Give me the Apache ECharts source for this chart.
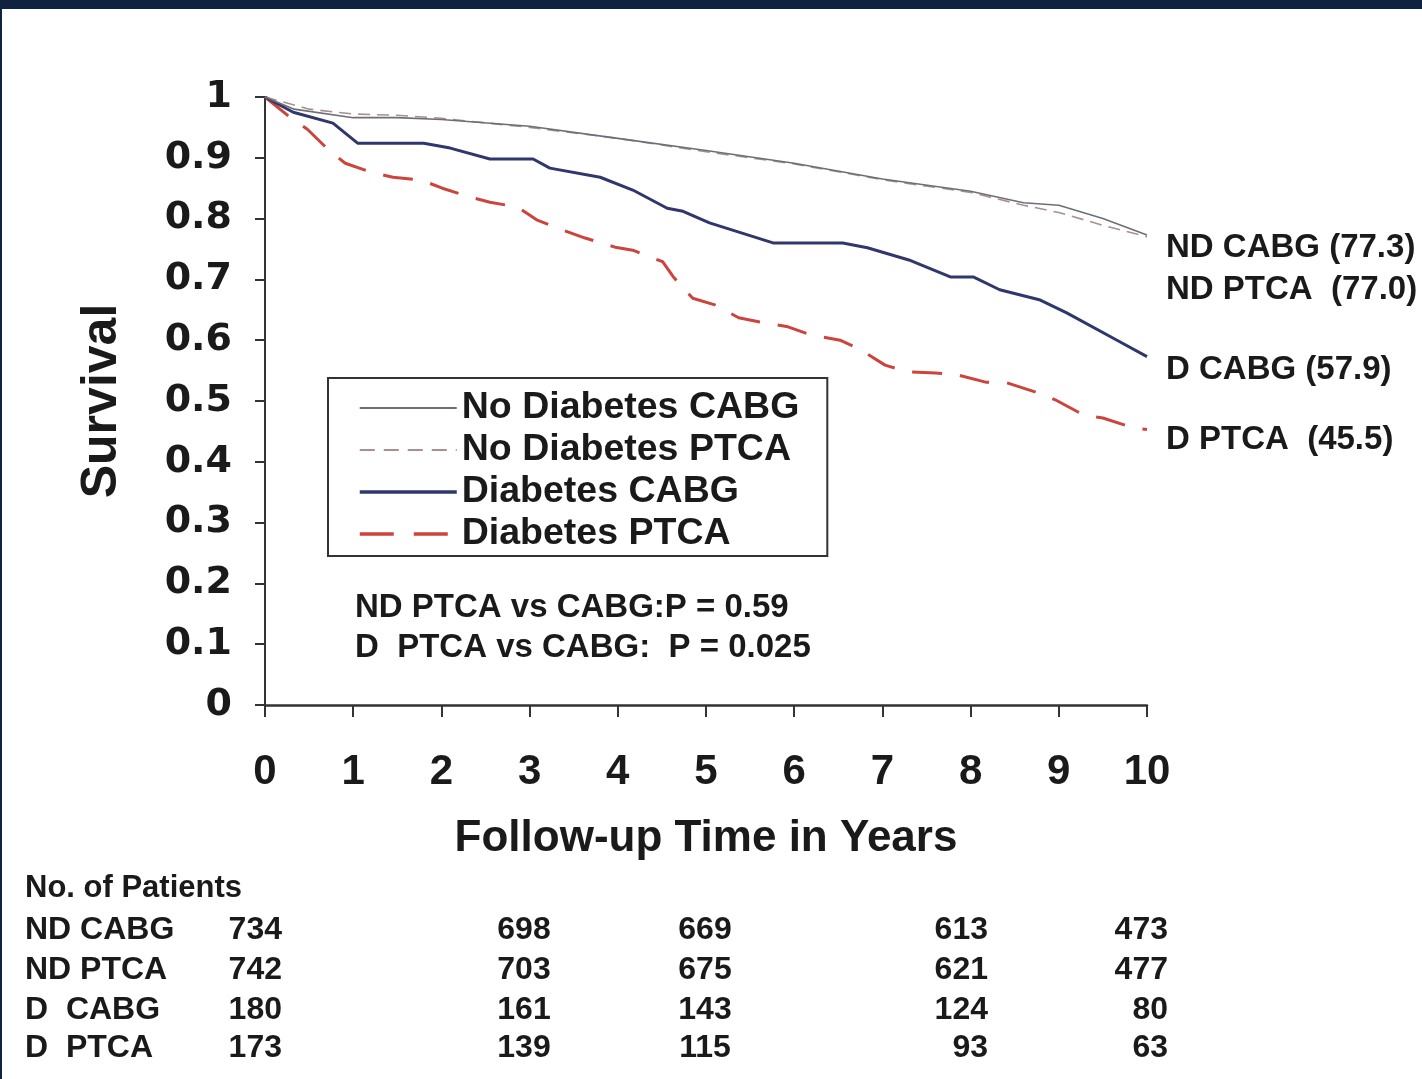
<!DOCTYPE html>
<html>
<head>
<meta charset="utf-8">
<script src="https://cdn.jsdelivr.net/npm/echarts@6/dist/echarts.min.js"></script>
<style>
html,body{margin:0;padding:0;background:#ffffff;}
#chart{position:absolute;left:0;top:0;width:1422px;height:1079px;}
</style>
</head>
<body>
<div id="chart"></div>
<script>
// ---------- data ----------
const seriesNames = ['No Diabetes CABG', 'No Diabetes PTCA', 'Diabetes CABG', 'Diabetes PTCA'];
const endLabels = ['ND CABG (77.3)', 'ND PTCA  (77.0)', 'D CABG (57.9)', 'D PTCA  (45.5)'];

const ndCabgT = [0, 0.33, 1.0, 1.5, 2.0, 3.0, 4.0, 5.0, 6.0, 7.0, 8.0, 8.6, 9.0, 9.5, 10];
const ndCabgS = [1.0, 0.98, 0.966, 0.966, 0.963, 0.952, 0.932, 0.912, 0.891, 0.865, 0.845, 0.826, 0.822, 0.800, 0.773];

const ndPtcaT = [0, 0.5, 1.0, 1.5, 2.0, 3.0, 4.0, 5.0, 6.0, 7.0, 8.0, 8.6, 9.0, 9.5, 10];
const ndPtcaS = [1.0, 0.98, 0.972, 0.970, 0.965, 0.950, 0.932, 0.910, 0.890, 0.864, 0.843, 0.822, 0.810, 0.789, 0.770];

const dCabgT = [0, 0.32, 0.77, 1.05, 1.8, 2.1, 2.55, 3.04, 3.23, 3.8, 4.17, 4.56, 4.74, 5.04, 5.76, 6.55, 6.83, 7.3, 7.77, 8.03, 8.33, 8.79, 9.09, 9.66, 10];
const dCabgS = [1.0, 0.975, 0.957, 0.924, 0.924, 0.916, 0.898, 0.898, 0.883, 0.868, 0.847, 0.817, 0.812, 0.793, 0.760, 0.760, 0.752, 0.732, 0.704, 0.704, 0.683, 0.666, 0.645, 0.600, 0.573];

const dPtcaT = [0, 0.28, 0.48, 0.72, 0.91, 1.19, 1.45, 1.78, 2.01, 2.31, 2.55, 2.86, 3.08, 3.38, 3.63, 3.97, 4.17, 4.51, 4.63, 4.85, 5.1, 5.37, 5.61, 5.93, 6.18, 6.52, 6.72, 7.03, 7.28, 7.6, 7.85, 8.17, 8.41, 8.73, 8.96, 9.28, 9.5, 9.84, 10];
const dPtcaS = [1.0, 0.967, 0.947, 0.913, 0.891, 0.877, 0.868, 0.863, 0.850, 0.836, 0.827, 0.819, 0.798, 0.781, 0.768, 0.753, 0.748, 0.729, 0.704, 0.669, 0.658, 0.637, 0.630, 0.622, 0.609, 0.600, 0.587, 0.559, 0.548, 0.546, 0.543, 0.531, 0.530, 0.515, 0.502, 0.477, 0.472, 0.456, 0.453];

const pValueLines = ['ND PTCA vs CABG:P = 0.59', 'D  PTCA vs CABG:  P = 0.025'];

const tableTitle = 'No. of Patients';
const tableRowLabels = ['ND CABG', 'ND PTCA', 'D  CABG', 'D  PTCA'];
const patientYears = [0, 3, 5, 8, 10];
const ndCabgN = [734, 698, 669, 613, 473];
const ndPtcaN = [742, 703, 675, 621, 477];
const dCabgN = [180, 161, 143, 124, 80];
const dPtcaN = [173, 139, 115, 93, 63];

// ---------- build ----------
function pairs(t, s) { return t.map((v, i) => [v, s[i]]); }

const FONT = 'Liberation Sans';
const txt = '#1a1a1a';

const lineDefs = [
  { t: ndCabgT, s: ndCabgS, color: '#6e6e7a', width: 1.6, type: 'solid', legendType: 'solid', legendWidth: 2, off: [11, 13] },
  { t: ndPtcaT, s: ndPtcaS, color: '#a89090', width: 1.6, type: [12, 7], legendType: [15, 9], legendWidth: 2, off: [11, 53] },
  { t: dCabgT, s: dCabgS, color: '#2f376c', width: 3, type: 'solid', legendType: 'solid', legendWidth: 3.5, off: [11, 13] },
  { t: dPtcaT, s: dPtcaS, color: '#cc443c', width: 3, type: [30, 18], legendType: [34, 20], legendWidth: 3.5, off: [11, 10] }
];

const series = lineDefs.map((d, i) => ({
  name: seriesNames[i],
  type: 'line',
  data: pairs(d.t, d.s),
  symbol: 'none',
  smooth: false,
  silent: true,
  z: 10 - i,
  lineStyle: { color: d.color, width: d.width, type: d.type },
  itemStyle: { color: d.color },
  endLabel: {
    show: true,
    formatter: endLabels[i],
    offset: d.off,
    fontFamily: FONT,
    fontWeight: 'bold',
    fontSize: 33,
    color: txt
  }
}));

const legendData = lineDefs.map((d, i) => ({
  name: seriesNames[i],
  lineStyle: { color: d.color, width: d.legendWidth, type: d.legendType }
}));

const graphics = [
  { type: 'rect', shape: { x: 0, y: 0, width: 1422, height: 9 }, style: { fill: '#0f2340' }, z: 100 },
  { type: 'rect', shape: { x: 0, y: 0, width: 2, height: 1079 }, style: { fill: '#0f2340' }, z: 100 }
];

// p-values
pValueLines.forEach((s, i) => {
  graphics.push({
    type: 'text', left: 355, top: 608 + i * 40 - 17,
    style: { text: s, font: 'bold 33px "' + FONT + '"', fill: txt }
  });
});

// patient table
graphics.push({
  type: 'text', x: 25, y: 888,
  style: { text: tableTitle, font: 'bold 31px "' + FONT + '"', fill: txt, verticalAlign: 'middle', align: 'left' }
});
const rowY = [930, 970, 1010, 1048];
const colX = [282, 524, 705, 988, 1168];
const colAlign = ['right', 'center', 'center', 'right', 'right'];
const rows = [ndCabgN, ndPtcaN, dCabgN, dPtcaN];
rows.forEach((r, ri) => {
  graphics.push({
    type: 'text', x: 25, y: rowY[ri],
    style: { text: tableRowLabels[ri], font: 'bold 32px "' + FONT + '"', fill: txt, verticalAlign: 'middle', align: 'left' }
  });
  r.forEach((v, ci) => {
    graphics.push({
      type: 'text', x: colX[ci], y: rowY[ri],
      style: { text: String(v), font: 'bold 32px "' + FONT + '"', fill: txt, verticalAlign: 'middle', align: colAlign[ci] }
    });
  });
});

const chart = echarts.init(document.getElementById('chart'), null, { renderer: 'canvas' });
chart.setOption({
  backgroundColor: '#ffffff',
  animation: false,
  grid: { left: 265, top: 97, width: 882, height: 608, containLabel: false },
  xAxis: {
    type: 'value', min: 0, max: 10, interval: 1,
    name: 'Follow-up Time in Years',
    nameLocation: 'middle', nameGap: 112,
    nameTextStyle: { fontFamily: FONT, fontWeight: 'bold', fontSize: 44, color: txt },
    axisLine: { show: true, onZero: false, lineStyle: { color: '#333', width: 2.5 } },
    axisTick: { show: true, length: 12, inside: false, lineStyle: { color: '#333', width: 2 } },
    axisLabel: { margin: 46, fontFamily: FONT, fontWeight: 'bold', fontSize: 42, color: txt },
    splitLine: { show: false }
  },
  yAxis: {
    type: 'value', min: 0, max: 1, interval: 0.1,
    name: 'Survival',
    nameLocation: 'middle', nameGap: 138, nameRotate: 90,
    nameTextStyle: { fontFamily: FONT, fontWeight: 'bold', fontSize: 50, color: txt },
    axisLine: { show: true, lineStyle: { color: '#333', width: 2 } },
    axisTick: { show: true, length: 10, inside: false, lineStyle: { color: '#333', width: 2 } },
    axisLabel: { margin: 33, fontFamily: 'DejaVu Sans', fontWeight: 'bold', fontSize: 38, color: txt },
    splitLine: { show: false }
  },
  legend: {
    orient: 'vertical',
    left: 328, top: 378,
    data: legendData,
    itemWidth: 97, itemHeight: 36, itemGap: 4,
    padding: [11, 28, 3, 30],
    borderColor: '#333', borderWidth: 2,
    backgroundColor: '#ffffff',
    selectedMode: false,
    itemStyle: { opacity: 0, color: 'transparent', borderWidth: 0 },
    textStyle: { fontFamily: FONT, fontWeight: 'bold', fontSize: 37.5, lineHeight: 36, color: txt }
  },
  graphic: graphics,
  series: series
});
</script>
</body>
</html>
